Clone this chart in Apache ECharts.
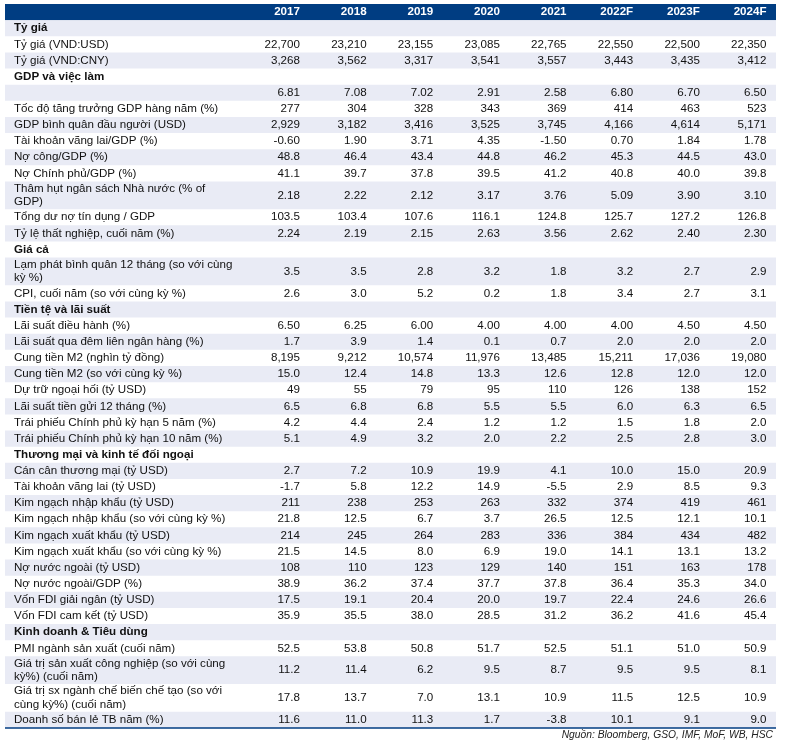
<!DOCTYPE html>
<html>
<head>
<meta charset="utf-8">
<script src="https://cdn.jsdelivr.net/npm/echarts@6/dist/echarts.min.js"></script>
<style>
  html, body { margin: 0; padding: 0; background: #fff; }
  #main { width: 793px; height: 747px; }
</style>
</head>
<body>
<div id="main"></div>
<script>
// Bảng chỉ tiêu vĩ mô Việt Nam, vẽ bằng custom series

var years = ['2017', '2018', '2019', '2020', '2021', '2022F', '2023F', '2024F'];

// Tỷ giá
var tyGiaLabels = ['Tỷ giá (VND:USD)', 'Tỷ giá (VND:CNY)'];
var tyGiaDecimals = [0, 0];
var tyGiaValues = [
    [22700, 23210, 23155, 23085, 22765, 22550, 22500, 22350],
    [3268, 3562, 3317, 3541, 3557, 3443, 3435, 3412]
];

// GDP và việc làm
var gdpLabels = [
    '',
    'Tốc độ tăng trưởng GDP hàng năm (%)',
    'GDP bình quân đầu người (USD)',
    'Tài khoản vãng lai/GDP (%)',
    'Nợ công/GDP (%)',
    'Nợ Chính phủ/GDP (%)',
    'Thâm hụt ngân sách Nhà nước (% of\nGDP)',
    'Tổng dư nợ tín dụng / GDP',
    'Tỷ lệ thất nghiệp, cuối năm (%)'
];
var gdpDecimals = [2, 0, 0, 2, 1, 1, 2, 1, 2];
var gdpValues = [
    [6.81, 7.08, 7.02, 2.91, 2.58, 6.80, 6.70, 6.50],
    [277, 304, 328, 343, 369, 414, 463, 523],
    [2929, 3182, 3416, 3525, 3745, 4166, 4614, 5171],
    [-0.60, 1.90, 3.71, 4.35, -1.50, 0.70, 1.84, 1.78],
    [48.8, 46.4, 43.4, 44.8, 46.2, 45.3, 44.5, 43.0],
    [41.1, 39.7, 37.8, 39.5, 41.2, 40.8, 40.0, 39.8],
    [2.18, 2.22, 2.12, 3.17, 3.76, 5.09, 3.90, 3.10],
    [103.5, 103.4, 107.6, 116.1, 124.8, 125.7, 127.2, 126.8],
    [2.24, 2.19, 2.15, 2.63, 3.56, 2.62, 2.40, 2.30]
];

// Giá cả
var giaCaLabels = [
    'Lạm phát bình quân 12 tháng (so với cùng\nkỳ %)',
    'CPI, cuối năm (so với cùng kỳ %)'
];
var giaCaDecimals = [1, 1];
var giaCaValues = [
    [3.5, 3.5, 2.8, 3.2, 1.8, 3.2, 2.7, 2.9],
    [2.6, 3.0, 5.2, 0.2, 1.8, 3.4, 2.7, 3.1]
];

// Tiền tệ và lãi suất
var tienTeLabels = [
    'Lãi suất điều hành (%)',
    'Lãi suất qua đêm liên ngân hàng (%)',
    'Cung tiền M2 (nghìn tỷ đồng)',
    'Cung tiền M2 (so với cùng kỳ %)',
    'Dự trữ ngoại hối (tỷ USD)',
    'Lãi suất tiền gửi 12 tháng (%)',
    'Trái phiếu Chính phủ kỳ hạn 5 năm (%)',
    'Trái phiếu Chính phủ kỳ hạn 10 năm (%)'
];
var tienTeDecimals = [2, 1, 0, 1, 0, 1, 1, 1];
var tienTeValues = [
    [6.50, 6.25, 6.00, 4.00, 4.00, 4.00, 4.50, 4.50],
    [1.7, 3.9, 1.4, 0.1, 0.7, 2.0, 2.0, 2.0],
    [8195, 9212, 10574, 11976, 13485, 15211, 17036, 19080],
    [15.0, 12.4, 14.8, 13.3, 12.6, 12.8, 12.0, 12.0],
    [49, 55, 79, 95, 110, 126, 138, 152],
    [6.5, 6.8, 6.8, 5.5, 5.5, 6.0, 6.3, 6.5],
    [4.2, 4.4, 2.4, 1.2, 1.2, 1.5, 1.8, 2.0],
    [5.1, 4.9, 3.2, 2.0, 2.2, 2.5, 2.8, 3.0]
];

// Thương mại và kinh tế đối ngoại
var thuongMaiLabels = [
    'Cán cân thương mại (tỷ USD)',
    'Tài khoản vãng lai (tỷ USD)',
    'Kim ngạch nhập khẩu (tỷ USD)',
    'Kim ngạch nhập khẩu (so với cùng kỳ %)',
    'Kim ngạch xuất khẩu (tỷ USD)',
    'Kim ngạch xuất khẩu (so với cùng kỳ %)',
    'Nợ nước ngoài (tỷ USD)',
    'Nợ nước ngoài/GDP (%)',
    'Vốn FDI giải ngân (tỷ USD)',
    'Vốn FDI cam kết (tỷ USD)'
];
var thuongMaiDecimals = [1, 1, 0, 1, 0, 1, 0, 1, 1, 1];
var thuongMaiValues = [
    [2.7, 7.2, 10.9, 19.9, 4.1, 10.0, 15.0, 20.9],
    [-1.7, 5.8, 12.2, 14.9, -5.5, 2.9, 8.5, 9.3],
    [211, 238, 253, 263, 332, 374, 419, 461],
    [21.8, 12.5, 6.7, 3.7, 26.5, 12.5, 12.1, 10.1],
    [214, 245, 264, 283, 336, 384, 434, 482],
    [21.5, 14.5, 8.0, 6.9, 19.0, 14.1, 13.1, 13.2],
    [108, 110, 123, 129, 140, 151, 163, 178],
    [38.9, 36.2, 37.4, 37.7, 37.8, 36.4, 35.3, 34.0],
    [17.5, 19.1, 20.4, 20.0, 19.7, 22.4, 24.6, 26.6],
    [35.9, 35.5, 38.0, 28.5, 31.2, 36.2, 41.6, 45.4]
];

// Kinh doanh & Tiêu dùng
var kinhDoanhLabels = [
    'PMI ngành sản xuất (cuối năm)',
    'Giá trị sản xuất công nghiệp (so với cùng\nkỳ%) (cuối năm)',
    'Giá trị sx ngành chế biến chế tạo (so với\ncùng kỳ%) (cuối năm)',
    'Doanh số bán lẻ TB năm (%)'
];
var kinhDoanhDecimals = [1, 1, 1, 1];
var kinhDoanhValues = [
    [52.5, 53.8, 50.8, 51.7, 52.5, 51.1, 51.0, 50.9],
    [11.2, 11.4, 6.2, 9.5, 8.7, 9.5, 9.5, 8.1],
    [17.8, 13.7, 7.0, 13.1, 10.9, 11.5, 12.5, 10.9],
    [11.6, 11.0, 11.3, 1.7, -3.8, 10.1, 9.1, 9.0]
];

var sourceText = 'Nguồn: Bloomberg, GSO, IMF, MoF, WB, HSC';

var sections = [
    ['Tỷ giá', tyGiaLabels, tyGiaValues, tyGiaDecimals],
    ['GDP và việc làm', gdpLabels, gdpValues, gdpDecimals],
    ['Giá cả', giaCaLabels, giaCaValues, giaCaDecimals],
    ['Tiền tệ và lãi suất', tienTeLabels, tienTeValues, tienTeDecimals],
    ['Thương mại và kinh tế đối ngoại', thuongMaiLabels, thuongMaiValues, thuongMaiDecimals],
    ['Kinh doanh & Tiêu dùng', kinhDoanhLabels, kinhDoanhValues, kinhDoanhDecimals]
];

// gộp thành danh sách dòng, chiều cao theo đơn vị dòng
var DOUBLE_H = 1.72;
var rows = [{ kind: 'header', y0: 0, h: 1 }];
var cum = 1;
sections.forEach(function (s) {
    rows.push({ kind: 'section', label: s[0], y0: cum, h: 1 });
    cum += 1;
    s[1].forEach(function (lab, k) {
        var h = lab.indexOf('\n') >= 0 ? DOUBLE_H : 1;
        rows.push({ kind: 'row', label: lab, values: s[2][k], dec: s[3][k], y0: cum, h: h });
        cum += h;
    });
});
var totalUnits = cum;

function fmt(v, d) {
    var s = Math.abs(v).toFixed(d);
    var parts = s.split('.');
    parts[0] = parts[0].replace(/\B(?=(\d{3})+(?!\d))/g, ',');
    return (v < 0 ? '-' : '') + parts.join('.');
}

var LABEL_COLS = 3.568;   // độ rộng cột nhãn, tính theo số cột năm
var FONT = '"Liberation Sans", Arial, sans-serif';
var FONT_SIZE = 11.6;
var HEADER_BG = '#003d82';
var STRIPE_BG = '#e9ebf5';

function renderItem(params, api) {
    var r = rows[api.value(0)];
    var tl = api.coord([-LABEL_COLS, api.value(1)]);
    var br = api.coord([years.length, api.value(2)]);
    var yc = (tl[1] + br[1]) / 2;
    var children = [];

    if (r.kind === 'header') {
        children.push({ type: 'rect', shape: { x: tl[0], y: tl[1], width: br[0] - tl[0], height: br[1] - tl[1] },
            style: { fill: HEADER_BG } });
    } else if (api.value(0) % 2 === 1) {
        children.push({ type: 'rect', shape: { x: tl[0], y: tl[1], width: br[0] - tl[0], height: br[1] - tl[1] },
            style: { fill: STRIPE_BG } });
    }

    if (r.kind !== 'header') {
        children.push({ type: 'text', x: tl[0] + 9, y: yc,
            style: { text: r.label, fill: '#111', fontFamily: FONT, fontSize: FONT_SIZE, lineHeight: 13.5,
                fontWeight: r.kind === 'section' ? 'bold' : 'normal', align: 'left', verticalAlign: 'middle' } });
    }

    years.forEach(function (yr, j) {
        var p = api.coord([j + 1, api.value(1)]);
        var txt = r.kind === 'header' ? yr : (r.kind === 'row' ? fmt(r.values[j], r.dec) : '');
        if (!txt) return;
        children.push({ type: 'text', x: p[0] - 9.5, y: yc,
            style: { text: txt, fill: r.kind === 'header' ? '#fff' : '#111', fontFamily: FONT, fontSize: FONT_SIZE,
                fontWeight: r.kind === 'header' ? 'bold' : 'normal', align: 'right', verticalAlign: 'middle' } });
    });

    if (api.value(0) === rows.length - 1) {
        children.push({ type: 'line', shape: { x1: tl[0], y1: br[1], x2: br[0], y2: br[1] },
            style: { stroke: HEADER_BG, lineWidth: 1.5 } });
    }
    return { type: 'group', children: children };
}

var myChart = echarts.init(document.getElementById('main'));

var option = {
    animation: false,
    title: {
        text: sourceText,
        right: 15,
        bottom: 2,
        textStyle: { fontFamily: FONT, fontSize: 10.3, fontStyle: 'italic', fontWeight: 'normal', color: '#222' }
    },
    grid: { left: 5, right: 17, top: 4, bottom: 19 },
    xAxis: { type: 'value', min: -LABEL_COLS, max: years.length, show: false },
    yAxis: { type: 'value', min: 0, max: totalUnits, inverse: true, show: false },
    series: [{
        type: 'custom',
        renderItem: renderItem,
        clip: false,
        data: rows.map(function (r, i) { return [i, r.y0, r.y0 + r.h]; })
    }]
};

myChart.setOption(option);
</script>
</body>
</html>
